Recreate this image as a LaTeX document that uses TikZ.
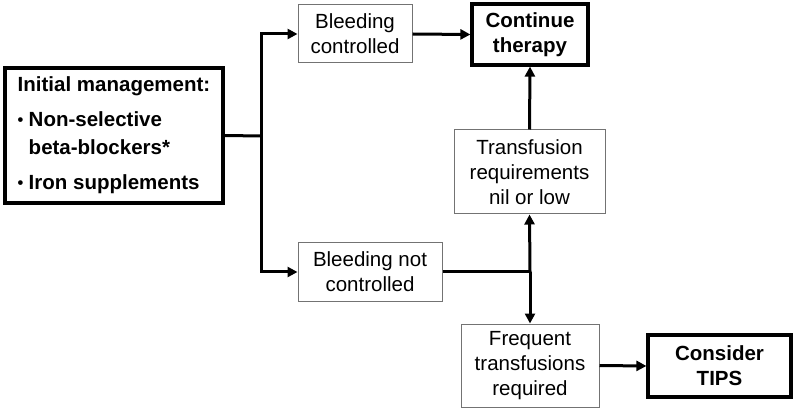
\documentclass[tikz,border=0pt]{standalone}
\usepackage{fontspec}
\setmainfont{Liberation Sans}
\usetikzlibrary{arrows.meta,positioning}
\newcommand{\bul}{\makebox[11pt][l]{\raisebox{1pt}{\scalebox{0.8}{\textbullet}}}}

\begin{document}
\begin{tikzpicture}[x=1pt, y=-1pt, >={Triangle[length=10pt,width=10pt]},
  box/.style={draw=black!55, line width=1pt, align=center, inner sep=0pt,
    font=\fontsize{20.5}{25}\selectfont},
  keybox/.style={draw, line width=3.2pt, align=center, inner sep=0pt,
    font=\bfseries\fontsize{20.5}{25}\selectfont},
  conn/.style={line width=3pt}]
  \useasboundingbox (0,0) rectangle (794,411);
  \node (init) [keybox, align=left, minimum width=218pt, minimum height=135pt,
    font=\bfseries\fontsize{20.5}{28}\selectfont] at (114,135.5)
    {Initial management:\\[7pt]
     \bul Non-selective\\
     \hspace*{11pt}beta-blockers*\\[7pt]
     \bul Iron supplements};
  \node (bc) [box, minimum width=114pt, minimum height=58pt] at (355,34) {Bleeding\\controlled};
  \node (ct) [keybox, minimum width=116pt, minimum height=61pt] at (530,34.5) {Continue\\therapy};
  \node (bnc) [box, minimum width=144pt, minimum height=58pt] at (370,272) {Bleeding not\\controlled};
  \node (tr) [box, minimum width=151pt, minimum height=84pt] at (529.5,172) {Transfusion\\requirements\\nil or low};
  \node (ft) [box, minimum width=138pt, minimum height=83pt] at (530,365.5) {Frequent\\transfusions\\required};
  \node (tips) [keybox, minimum width=143pt, minimum height=62pt] at (719.5,366) {Consider\\TIPS};
  \coordinate (split) at (261,136);
  \coordinate (join) at (530,272);
  \draw[conn] (init.east) -- (split);
  \draw[conn,->] (split) |- (bc.west);
  \draw[conn,->] (split) |- (bnc.west);
  \draw[conn,->] (bc.east) -- (ct.west);
  \draw[conn] (bnc.east) -- (join);
  \draw[conn,->] (join) -- (tr.south);
  \draw[conn,->] (join) -- (ft.north);
  \draw[conn,->] (tr.north) -- (ct.south);
  \draw[conn,->] (ft.east) -- (tips.west);
\end{tikzpicture}
\end{document}
